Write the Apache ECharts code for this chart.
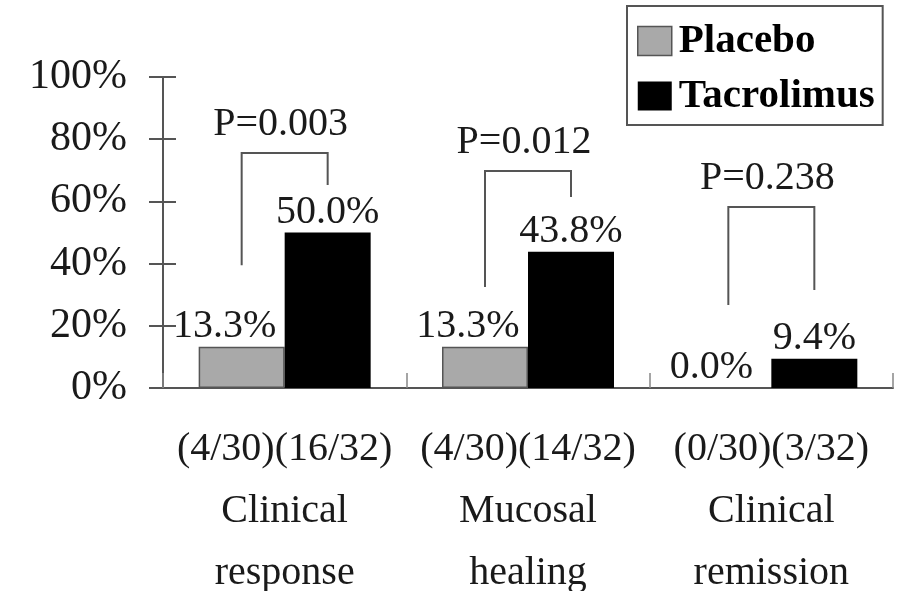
<!DOCTYPE html>
<html>
<head>
<meta charset="utf-8">
<script src="https://cdn.jsdelivr.net/npm/echarts@6/dist/echarts.min.js"></script>
<style>
html,body{margin:0;padding:0;background:#fff;}
#chart{width:901px;height:591px;}
</style>
</head>
<body>
<div id="chart"></div>
<script>
// ---- data ----
const categories = ['Clinical response', 'Mucosal healing', 'Clinical remission'];
const categoryLines = [['Clinical', 'response'], ['Mucosal', 'healing'], ['Clinical', 'remission']];
const placeboFractions = ['(4/30)', '(4/30)', '(0/30)'];
const tacrolimusFractions = ['(16/32)', '(14/32)', '(3/32)'];
const placeboValues = [13.3, 13.3, 0.0];
const tacrolimusValues = [50.0, 43.8, 9.4];
const pValues = ['P=0.003', 'P=0.012', 'P=0.238'];
// bracket levels in % : top, left-leg bottom, right-leg bottom
const bracketTop = [75.6, 69.8, 58.2];
const bracketLeftBottom = [39.5, 32.5, 26.7];
const bracketRightBottom = [65.3, 61.4, 31.5];
const yTicks = [0, 20, 40, 60, 80, 100];

const FONT = '"Liberation Serif", "DejaVu Serif", "Times New Roman", serif';
const TEXT = '#1a1a1a';
const LINE = '#555';
const BAR_W = 86;

const chart = echarts.init(document.getElementById('chart'));

const bracketData = categories.map((c, i) => [i, bracketTop[i], bracketLeftBottom[i], bracketRightBottom[i], i]);

const option = {
  animation: false,
  backgroundColor: '#fff',
  grid: { left: 163, right: 8, top: 77, bottom: 203, containLabel: false, outerBoundsMode: 'none' },
  legend: {
    orient: 'vertical',
    left: 627,
    top: 6,
    padding: [12, 8, 6, 10],
    itemGap: 9,
    itemWidth: 34,
    itemHeight: 29,
    itemStyle: { borderWidth: 1.5 },
    borderColor: LINE,
    borderWidth: 2,
    icon: 'rect',
    data: ['Placebo', 'Tacrolimus'],
    textStyle: { fontFamily: FONT, fontSize: 41, fontWeight: 'bold', color: '#000', lineHeight: 46, padding: [0, 0, 0, 2] }
  },
  xAxis: {
    type: 'category',
    data: categories,
    boundaryGap: true,
    axisLine: { lineStyle: { color: LINE, width: 2 } },
    axisTick: { show: true, inside: true, length: 15, lineStyle: { color: '#888', width: 1.5 } },
    axisLabel: {
      interval: 0,
      margin: 30,
      fontFamily: FONT,
      fontSize: 40,
      color: TEXT,
      lineHeight: 62,
      formatter: function (v, i) {
        return placeboFractions[i] + tacrolimusFractions[i] + '\n' + categoryLines[i].join('\n');
      }
    }
  },
  yAxis: [
    {
      type: 'value',
      min: yTicks[0], max: yTicks[yTicks.length - 1], interval: 20,
      splitLine: { show: false },
      axisLine: { show: true, lineStyle: { color: LINE, width: 2 } },
      axisTick: { show: true, length: 14, lineStyle: { color: LINE, width: 2 } },
      axisLabel: { margin: 36, fontFamily: FONT, fontSize: 42, color: TEXT, formatter: '{value}%' }
    },
    {
      type: 'value',
      position: 'left',
      min: yTicks[0], max: yTicks[yTicks.length - 1], interval: 20,
      splitLine: { show: false },
      axisLine: { show: false },
      axisTick: { show: true, inside: true, length: 13, lineStyle: { color: LINE, width: 2 } },
      axisLabel: { show: false }
    }
  ],
  series: [
    {
      name: 'Placebo',
      type: 'bar',
      data: placeboValues,
      barWidth: BAR_W,
      barGap: '0%',
      itemStyle: { color: '#a9a9a9', borderColor: LINE, borderWidth: 1.5 },
      label: {
        show: true, position: 'top', distance: 0, offset: [-17, 0],
        fontFamily: FONT, fontSize: 40, color: TEXT,
        formatter: p => p.value.toFixed(1) + '%'
      }
    },
    {
      name: 'Tacrolimus',
      type: 'bar',
      data: tacrolimusValues,
      barWidth: BAR_W,
      barGap: '0%',
      itemStyle: { color: '#000' },
      label: {
        show: true, position: 'top', distance: 0,
        fontFamily: FONT, fontSize: 40, color: TEXT,
        formatter: p => p.value.toFixed(1) + '%'
      }
    },
    {
      name: 'brackets',
      type: 'custom',
      clip: false,
      z: 5,
      silent: true,
      encode: { x: 0, y: 1 },
      data: bracketData,
      renderItem: function (params, api) {
        const cat = api.value(0);
        const top = api.coord([cat, api.value(1)]);
        const lb = api.coord([cat, api.value(2)]);
        const rb = api.coord([cat, api.value(3)]);
        const idx = api.value(4);
        const half = BAR_W / 2;
        const xl = top[0] - half;
        const xr = top[0] + half;
        return {
          type: 'group',
          children: [
            {
              type: 'polyline',
              shape: { points: [[xl, lb[1]], [xl, top[1]], [xr, top[1]], [xr, rb[1]]] },
              style: { stroke: LINE, lineWidth: 2, fill: null }
            },
            {
              type: 'text',
              style: {
                text: pValues[idx], x: top[0] - 4, y: top[1] - 28,
                align: 'center', verticalAlign: 'middle',
                fontFamily: FONT, fontSize: 40, fill: TEXT
              }
            }
          ]
        };
      }
    }
  ]
};
chart.setOption(option);
</script>
</body>
</html>
